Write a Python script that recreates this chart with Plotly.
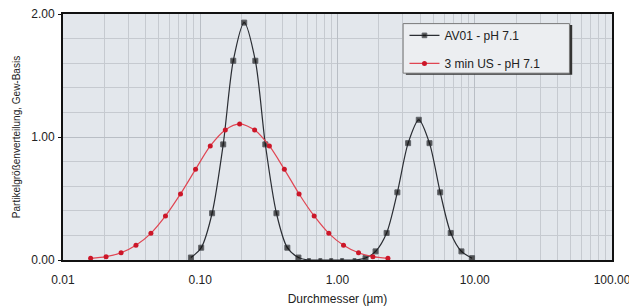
import plotly.graph_objects as go

# AV01 - pH 7.1 (bimodal)
av_x = [0.0855, 0.1016, 0.122, 0.147, 0.174, 0.209, 0.252, 0.298, 0.359, 0.431, 0.519,
        0.62, 0.75, 0.90, 1.08, 1.33,
        1.60, 1.894, 2.28, 2.73, 3.27, 3.91, 4.68, 5.60, 6.68, 8.00, 9.56]
av_y = [0.02, 0.10, 0.38, 0.94, 1.62, 1.93, 1.62, 0.94, 0.38, 0.10, 0.02,
        0.0, 0.0, 0.0, 0.0, 0.0,
        0.016, 0.07, 0.22, 0.55, 0.95, 1.14, 0.95, 0.55, 0.22, 0.07, 0.015]

# 3 min US - pH 7.1
us_x = [0.0159, 0.0206, 0.0265, 0.0340, 0.0437, 0.0558, 0.0718, 0.0924, 0.1183, 0.1522,
        0.1936, 0.249, 0.319, 0.410, 0.525, 0.676, 0.864, 1.106, 1.423, 1.81, 2.33]
us_y = [0.014, 0.027, 0.059, 0.12, 0.217, 0.358, 0.537, 0.737, 0.927, 1.057,
        1.106, 1.057, 0.927, 0.737, 0.537, 0.358, 0.217, 0.12, 0.059, 0.027, 0.014]

x_ticks = [0.01, 0.1, 1, 10, 100]
x_labels = ["0.01", "0.10", "1.00", "10.00", "100.00"]
y_ticks = [0, 1, 2]
y_labels = ["0.00", "1.00", "2.00"]

minor_x = [m * 10 ** e for e in (-2, -1, 0, 1) for m in range(2, 10)]

av_sizes = [5 if v > 0 else 3 for v in av_y]

fig = go.Figure()
fig.add_trace(go.Scatter(
    x=av_x, y=av_y, mode="lines+markers", name="AV01 - pH 7.1",
    line=dict(color="#2a2d33", width=1.2, shape="spline", smoothing=0.8),
    marker=dict(symbol="square", size=av_sizes, color="#111111"),
    legendgroup="a"))
fig.add_trace(go.Scatter(
    x=us_x, y=us_y, mode="lines+markers", name="3 min US - pH 7.1",
    line=dict(color="#e04552", width=1.2, shape="spline", smoothing=0.8),
    marker=dict(symbol="circle", size=5, color="#cc1628"),
    legendgroup="b"))

font = "Liberation Sans, Arial, sans-serif"
# page body adds an 8px offset, so the figure is sized to fit the window
fig.update_layout(
    width=629, height=298,
    margin=dict(l=55, r=25, t=6, b=46, autoexpand=False),
    paper_bgcolor="white",
    plot_bgcolor="#e3e7ec",
    font=dict(family=font, size=12, color="#222222"),
    showlegend=True,
    legend=dict(x=0.622, y=0.972, xanchor="left", yanchor="top",
                bgcolor="rgba(0,0,0,0)", borderwidth=0,
                font=dict(size=12, color="#222222"),
                traceorder="grouped", tracegroupgap=9),
    shapes=[
        dict(type="rect", xref="paper", yref="paper",
             x0=0.6245, x1=0.9275, y0=0.7535, y1=0.955,
             line=dict(width=0), fillcolor="#333333", layer="above"),
        dict(type="rect", xref="paper", yref="paper",
             x0=0.6195, x1=0.9225, y0=0.7595, y1=0.961,
             line=dict(color="#7a7a7a", width=1),
             fillcolor="#eceef1", layer="above"),
    ],
)
fig.update_xaxes(
    type="log", range=[-2, 2], automargin=False,
    tickvals=x_ticks, ticktext=x_labels, ticklabeloverflow="allow",
    showgrid=True, gridcolor="#b9bec5", gridwidth=1,
    minor=dict(tickvals=minor_x, showgrid=True, gridcolor="#c6cad0", gridwidth=1, ticks=""),
    showline=True, linecolor="#111111", linewidth=2, mirror=True,
    ticks="", zeroline=False, ticklabelstandoff=8,
    title=dict(text="Durchmesser (µm)", font=dict(size=12), standoff=11),
    tickfont=dict(size=12),
)
fig.update_yaxes(
    range=[0, 2], automargin=False,
    tickvals=y_ticks, ticktext=y_labels, ticklabeloverflow="allow",
    showgrid=True, gridcolor="#b9bec5", gridwidth=1,
    minor=dict(dtick=0.2, showgrid=True, gridcolor="#c6cad0", gridwidth=1, ticks=""),
    showline=True, linecolor="#111111", linewidth=2, mirror=True,
    ticks="outside", ticklen=3, tickcolor="#111111", zeroline=False,
    ticklabelstandoff=1,
    title=dict(text="Partikelgrößenverteilung, Gew-Basis", font=dict(size=10), standoff=9),
    tickfont=dict(size=12),
)

fig.write_html("out.html")
